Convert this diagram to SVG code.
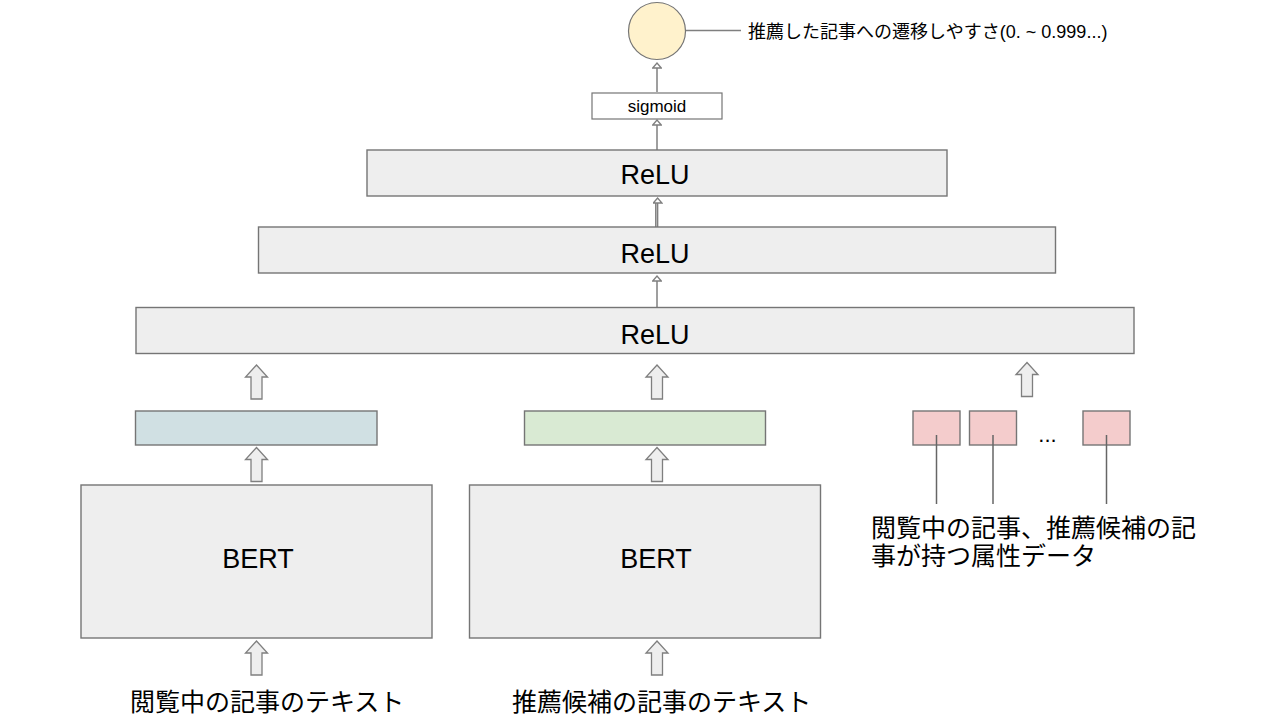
<svg xmlns="http://www.w3.org/2000/svg" width="1287" height="726" viewBox="0 0 1287 726">
<style>
.box{fill:#eeeeee;stroke:#757575;stroke-width:1.4}
.blue{fill:#d0e0e3;stroke:#757575;stroke-width:1.4}
.green{fill:#d9ead3;stroke:#757575;stroke-width:1.4}
.pink{fill:#f4cccc;stroke:#757575;stroke-width:1.4}
.sig{fill:#ffffff;stroke:#757575;stroke-width:1.2}
.out{fill:#fff2cc;stroke:#757575;stroke-width:1.2}
.lbl{font-family:"Liberation Sans","Noto Sans CJK JP",sans-serif;fill:#000}
.jp{font-family:"Liberation Sans","Noto Sans CJK JP",sans-serif;font-size:25px;fill:#000}
.big{font-size:27px;text-anchor:middle}
.conn{stroke:#7f7f7f;stroke-width:1.4;fill:none}
.thin{stroke:#7f7f7f;stroke-width:1.5;fill:none;marker-end:url(#head)}
.blk{fill:#eeeeee;stroke:#7f7f7f;stroke-width:1.3;stroke-linejoin:miter}
.tick{stroke:#666666;stroke-width:1.5}
</style>
<defs>
<marker id="head" viewBox="0 0 7 10" refX="6" refY="5" markerWidth="7" markerHeight="10" markerUnits="userSpaceOnUse" orient="auto">
<path d="M1,0.7 L6,5 L1,9.3 Z" fill="#ffffff" stroke="#7f7f7f" stroke-width="1.3"/>
</marker>
<path id="blockArrow" d="M0,0 L11,12 L5.5,12 L5.5,34 L-5.5,34 L-5.5,12 L-11,12 Z"/>
</defs>

<g id="connectors">
<line class="thin" x1="657" y1="92" x2="657" y2="63"/>
<line class="thin" x1="657" y1="150" x2="657" y2="120"/>
<line x1="655.8" y1="227" x2="655.8" y2="203" stroke="#7f7f7f" stroke-width="1.5"/>
<line class="thin" x1="657.6" y1="227" x2="657.6" y2="198"/>
<line class="thin" x1="657" y1="307" x2="657" y2="276"/>
<line class="conn" x1="686" y1="30.5" x2="741" y2="30.5"/>
<use href="#blockArrow" class="blk" x="256.5" y="641"/>
<use href="#blockArrow" class="blk" x="657" y="641"/>
<use href="#blockArrow" class="blk" x="256.5" y="447.5"/>
<use href="#blockArrow" class="blk" x="657" y="447.5"/>
<use href="#blockArrow" class="blk" x="256.5" y="365"/>
<use href="#blockArrow" class="blk" x="657" y="365"/>
<use href="#blockArrow" class="blk" x="1027" y="362.5"/>
</g>

<g id="output">
<circle class="out" cx="657" cy="31" r="28.5"/>
<text class="lbl" x="748" y="38" font-size="18">推薦した記事への遷移しやすさ(0. ~ 0.999...)</text>
</g>

<g id="sigmoid">
<rect class="sig" x="592" y="93" width="130" height="26"/>
<text class="lbl" x="657" y="112" font-size="17" text-anchor="middle">sigmoid</text>
</g>

<g id="relu1">
<rect class="box" x="367" y="150" width="580" height="46"/>
<text class="lbl big" x="655" y="183.5">ReLU</text>
</g>
<g id="relu2">
<rect class="box" x="258.5" y="227" width="797" height="46"/>
<text class="lbl big" x="655" y="263">ReLU</text>
</g>
<g id="relu3">
<rect class="box" x="136" y="307.5" width="998" height="46"/>
<text class="lbl big" x="655" y="343.5">ReLU</text>
</g>

<g id="vec-current">
<rect class="blue" x="135.5" y="411" width="241.5" height="34"/>
</g>
<g id="vec-candidate">
<rect class="green" x="524.5" y="411" width="241" height="34"/>
</g>
<g id="attributes">
<rect class="pink" x="913" y="411" width="47" height="34"/>
<rect class="pink" x="969.5" y="411" width="47" height="34"/>
<rect class="pink" x="1083" y="411" width="47" height="34"/>
<text class="lbl" x="1047.5" y="442" font-size="22" text-anchor="middle">...</text>
<line class="tick" x1="936.5" y1="435" x2="936.5" y2="504"/>
<line class="tick" x1="993" y1="435" x2="993" y2="504"/>
<line class="tick" x1="1106.5" y1="435" x2="1106.5" y2="504"/>
<text class="jp" x="871" y="537">閲覧中の記事、推薦候補の記</text>
<text class="jp" x="871" y="565">事が持つ属性データ</text>
</g>

<g id="bert1">
<rect class="box" x="81" y="485" width="351" height="153"/>
<text class="lbl big" x="258" y="568">BERT</text>
</g>
<g id="bert2">
<rect class="box" x="469.5" y="485" width="351" height="153"/>
<text class="lbl big" x="656" y="568">BERT</text>
</g>

<g id="input-current">
<text class="jp" x="130" y="711">閲覧中の記事のテキスト</text>
</g>
<g id="input-candidate">
<text class="jp" x="512" y="711">推薦候補の記事のテキスト</text>
</g>
</svg>
